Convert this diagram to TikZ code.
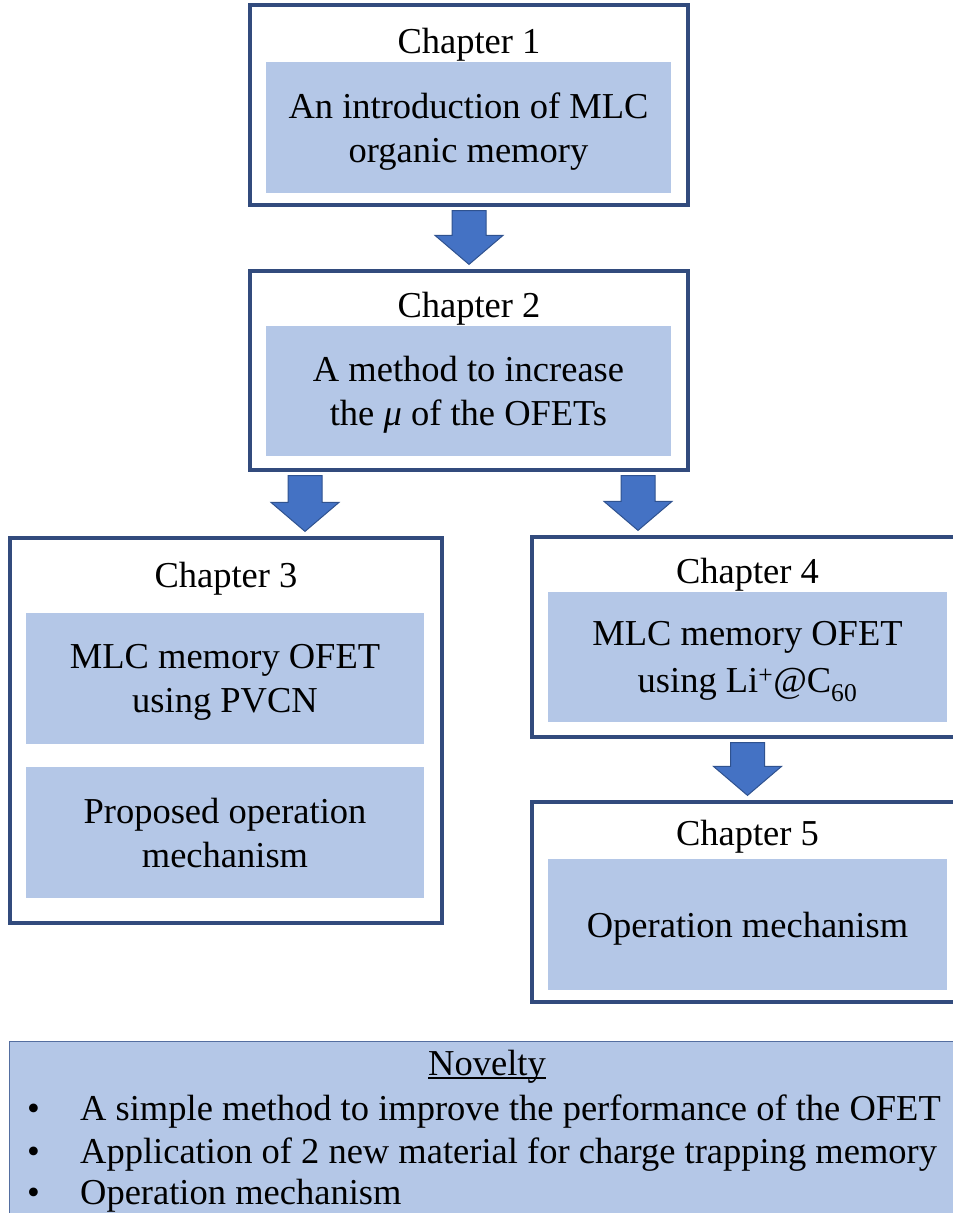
\documentclass[tikz,border=0pt]{standalone}
\usepackage{fontspec}
\setmainfont{Liberation Serif}
\usepackage{tikz}
\usetikzlibrary{calc, positioning}
\definecolor{frameblue}{RGB}{50,75,125}
\definecolor{paleblue}{RGB}{180,199,231}
\definecolor{arrowblue}{RGB}{68,114,196}
\definecolor{arrowedge}{RGB}{47,82,143}
\definecolor{novframe}{RGB}{84,110,160}
\tikzset{
  chapbox/.style={rectangle, draw=frameblue, fill=white,
    line width=3.2pt, inner sep=0pt},
  chaptitle/.style={anchor=base, inner sep=0pt,
    font=\fontsize{36.5}{44}\selectfont},
  content/.style={rectangle, fill=paleblue, align=center,
    inner sep=0pt, text depth=0pt, font=\fontsize{36.5}{44}\selectfont},
  novbox/.style={rectangle, draw=novframe, fill=paleblue,
    line width=1.2pt, inner sep=0pt},
  novline/.style={anchor=base west, inner sep=0pt,
    font=\fontsize{36.5}{44}\selectfont},
  blockarrow/.style={draw=arrowedge, fill=arrowblue, line width=1pt,
    to path={let \p1=(\tikztostart), \p2=(\tikztotarget) in
      (\x1-17pt,\y1-4pt) -- (\x1+17pt,\y1-4pt) -- (\x1+17pt,\y2+34pt)
      -- (\x1+34pt,\y2+34pt) -- (\x1,\y2+5pt) -- (\x1-34pt,\y2+34pt)
      -- (\x1-17pt,\y2+34pt) -- cycle}}
}

\begin{document}
\begin{tikzpicture}[x=1pt, y=-1pt]
  \useasboundingbox (0,0) rectangle (953,1213);
  \clip (0,0) rectangle (953,1213);

  % chapter frames
  \node[chapbox, minimum width=438pt, minimum height=200pt] (ch1) at (469,105) {};
  \node[chapbox, minimum width=438pt, minimum height=199pt] (ch2) at (469,370.5) {};
  \node[chapbox, minimum width=432pt, minimum height=385pt] (ch3) at (226,730.5) {};
  \node[chapbox, minimum width=431pt, minimum height=200pt] (ch4) at (747.5,637) {};
  \node[chapbox, minimum width=431pt, minimum height=200pt] (ch5) at (747.5,902) {};

  % contents
  \node[content, minimum width=405pt, minimum height=131pt] (c1) at (468.5,127.5)
    {An introduction of MLC\\organic memory};
  \node[content, minimum width=405pt, minimum height=130pt] (c2) at (468.5,391)
    {A method to increase\\the \textit{μ} of the OFETs};
  \node[content, minimum width=398pt, minimum height=131pt] (c3a) at (225,678.5)
    {MLC memory OFET\\using PVCN};
  \node[content, minimum width=398pt, minimum height=131pt] (c3b) at (225,832.5)
    {Proposed operation\\mechanism};
  \node[content, minimum width=399pt, minimum height=130pt] (c4) at (747.5,657)
    {MLC memory OFET\\[3pt]using Li\textsuperscript{+}@C\textsubscript{60}};
  \node[content, minimum width=399pt, minimum height=131pt] (c5) at (747.5,924.5)
    {Operation mechanism};

  % titles
  \node[chaptitle] (t1) at (469,53) {Chapter 1};
  \node[chaptitle] (t2) at (469,317) {Chapter 2};
  \node[chaptitle] (t3) at (226,587) {Chapter 3};
  \node[chaptitle] (t4) at (747.5,583) {Chapter 4};
  \node[chaptitle] (t5) at (747.5,845) {Chapter 5};

  % arrows
  \coordinate (leftdrop) at (305,0);
  \coordinate (rightdrop) at (638,0);
  \draw[blockarrow] (ch1.south) to (ch2.north);
  \draw[blockarrow] (ch2.south -| leftdrop) to (ch3.north -| leftdrop);
  \draw[blockarrow] (ch2.south -| rightdrop) to (ch4.north -| rightdrop);
  \draw[blockarrow] (ch4.south) to (ch5.north);

  % novelty
  \node[novbox, minimum width=956pt, minimum height=200pt, anchor=north west] (nov) at (9,1041) {};
  \node[chaptitle] (novt) at (487,1075) {Novelty};
  \draw[line width=1.2pt] ($(novt.base west)+(0,3)$) -- ($(novt.base east)+(0,3)$);
  \node[novline] (nv1) at (27,1120) {\makebox[53pt][l]{•}A simple method to improve the performance of the OFET};
  \node[novline] (nv2) at (27,1163) {\makebox[53pt][l]{•}Application of 2 new material for charge trapping memory};
  \node[novline] (nv3) at (27,1204) {\makebox[53pt][l]{•}Operation mechanism};
\end{tikzpicture}
\end{document}
